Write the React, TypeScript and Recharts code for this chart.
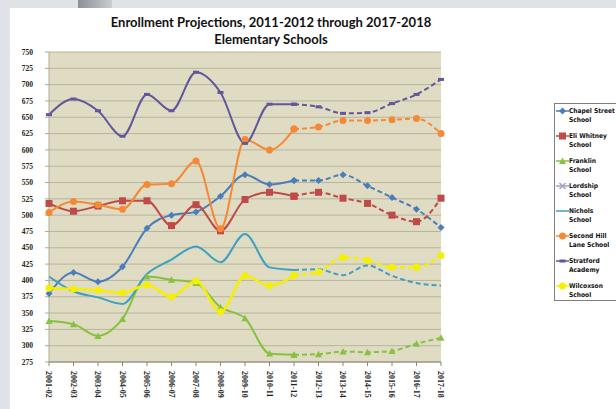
import React from 'react';
import { LineChart, Line, XAxis, YAxis, CartesianGrid, Legend } from 'recharts';

const CATEGORIES = [
  '2001-02', '2002-03', '2003-04', '2004-05', '2005-06', '2006-07', '2007-08', '2008-09', '2009-10',
  '2010-11', '2011-12', '2012-13', '2013-14', '2014-15', '2015-16', '2016-17', '2017-18',
];
const Y_TICKS = [275, 300, 325, 350, 375, 400, 425, 450, 475, 500, 525, 550, 575, 600, 625, 650, 675, 700, 725, 750];

// actual through 2011-12, projected after that
const PROJECTION_START = 10;

const CHAPEL_STREET = [380, 412, 398, 421, 480, 500, 505, 529, 562, 547, 553, 553, 562, 545, 527, 509, 481];
const ELI_WHITNEY = [518, 506, 514, 522, 522, 484, 516, 476, 524, 535, 529, 535, 526, 518, 500, 490, 526];
const FRANKLIN = [338, 333, 315, 341, 406, 401, 396, 359, 342, 288, 286, 287, 291, 290, 292, 303, 312];
const NICHOLS = [406, 383, 374, 364, 410, 432, 452, 428, 471, 420, 416, 417, 408, 423, 407, 396, 392];
const SECOND_HILL_LANE = [504, 521, 516, 509, 547, 548, 583, 479, 616, 600, 632, 635, 645, 645, 646, 648, 625];
const STRATFORD_ACADEMY = [654, 678, 660, 621, 685, 660, 719, 688, 610, 670, 670, 666, 656, 657, 671, 685, 708];
const WILCOXSON = [388, 387, 385, 381, 393, 375, 399, 352, 407, 392, 408, 413, 435, 431, 420, 420, 438];

type Shape = 'diamond' | 'square' | 'triangle' | 'circle' | 'dash' | 'cross' | 'none';

// legend names carry their own line breaks so they fit the narrow legend box
const SCHOOLS: { key: string; name: string; color: string; shape: Shape; width: number; values: number[] | null }[] = [
  { key: 'chapel', name: 'Chapel Street\nSchool', color: '#4a7ebb', shape: 'diamond', width: 2, values: CHAPEL_STREET },
  { key: 'eli', name: 'Eli Whitney\nSchool', color: '#be4b48', shape: 'square', width: 2, values: ELI_WHITNEY },
  { key: 'franklin', name: 'Franklin\nSchool', color: '#86c23f', shape: 'triangle', width: 2, values: FRANKLIN },
  { key: 'lordship', name: 'Lordship\nSchool', color: '#a59fcc', shape: 'cross', width: 2, values: null },
  { key: 'nichols', name: 'Nichols\nSchool', color: '#3ea1bf', shape: 'none', width: 2, values: NICHOLS },
  { key: 'secondHill', name: 'Second Hill\nLane School', color: '#f48a36', shape: 'circle', width: 2, values: SECOND_HILL_LANE },
  { key: 'stratford', name: 'Stratford\nAcademy', color: '#62569c', shape: 'dash', width: 2, values: STRATFORD_ACADEMY },
  { key: 'wilcoxson', name: 'Wilcoxson\nSchool', color: '#f4f000', shape: 'circle', width: 2.5, values: WILCOXSON },
];

const rows = CATEGORIES.map((year, i) => {
  const row: Record<string, string | number> = { year };
  SCHOOLS.forEach((s) => {
    if (!s.values) return;
    if (i <= PROJECTION_START) row[s.key] = s.values[i];
    if (i >= PROJECTION_START) row[s.key + 'Proj'] = s.values[i];
  });
  return row;
});

function Marker({ shape, cx, cy, color }: { shape: Shape; cx: number; cy: number; color: string }) {
  if (cx == null || cy == null) return null;
  switch (shape) {
    case 'square':
      return <rect x={cx - 3.5} y={cy - 3.5} width={7} height={7} fill={color} />;
    case 'diamond':
      return <polygon points={`${cx},${cy - 3.5} ${cx + 3.5},${cy} ${cx},${cy + 3.5} ${cx - 3.5},${cy}`} fill={color} />;
    case 'triangle':
      return <polygon points={`${cx},${cy - 3.5} ${cx + 3.5},${cy + 3} ${cx - 3.5},${cy + 3}`} fill={color} />;
    case 'circle':
      return <circle cx={cx} cy={cy} r={3.5} fill={color} />;
    case 'dash':
      return <rect x={cx - 3} y={cy - 1.5} width={6} height={3} fill={color} />;
    case 'cross':
      return <path d={`M${cx - 3},${cy - 3}L${cx + 3},${cy + 3}M${cx + 3},${cy - 3}L${cx - 3},${cy + 3}`} stroke={color} strokeWidth={1.5} />;
    default:
      return null;
  }
}

function XTick({ x, y, payload }: any) {
  return (
    <text
      transform={`translate(${x},${y + 3}) rotate(90)`}
      textAnchor="start"
      dy="0.35em"
      fontSize={8}
      fontWeight={700}
      fontFamily='"Liberation Serif", serif'
      fill="#222"
    >
      {payload.value}
    </text>
  );
}

function SchoolLegend() {
  return (
    <div
      style={{
        border: '1px solid #7f7f7f',
        background: '#fff',
        height: 198,
        paddingTop: 2,
        boxSizing: 'border-box',
        fontFamily: '"Liberation Sans Narrow", "DejaVu Sans Condensed", sans-serif',
        fontSize: 6.6,
        fontWeight: 700,
        color: '#111',
      }}
    >
      {SCHOOLS.map((s) => (
        <div key={s.key} style={{ display: 'flex', height: 25, alignItems: 'flex-start' }}>
          <svg width={13} height={10} style={{ marginLeft: 1, flex: 'none' }}>
            <line x1={0} y1={5} x2={13} y2={5} stroke={s.color} strokeWidth={1.5} />
            <Marker shape={s.shape} cx={6.5} cy={5} color={s.color} />
          </svg>
          <span style={{ whiteSpace: 'pre', lineHeight: '9.5px', flex: 'none', paddingTop: 0.5 }}>{s.name}</span>
        </div>
      ))}
    </div>
  );
}

export default function App() {
  return (
    <div style={{ position: 'fixed', left: 0, top: 0, width: 616, height: 409, background: '#dfe3e7', overflow: 'hidden' }}>
      <div
        style={{
          position: 'absolute',
          left: 78,
          top: 0,
          width: 34,
          height: 8,
          background: 'linear-gradient(90deg, #8b9096, #c9ccd0)',
        }}
      />
      <div style={{ position: 'absolute', left: 10, top: 8, right: 0, bottom: 0, background: '#fff' }} />
      <div
        style={{
          position: 'absolute',
          left: 0,
          top: 14,
          width: 542,
          textAlign: 'center',
          fontFamily: '"Liberation Sans Narrow", Lato, sans-serif',
          fontWeight: 700,
          fontSize: 13,
          lineHeight: '17px',
          color: '#111',
        }}
      >
        Enrollment Projections, 2011-2012 through 2017-2018
        <br />
        Elementary Schools
      </div>
      <div style={{ position: 'absolute', left: 0, top: 0 }}>
        <LineChart width={616} height={409} data={rows} margin={{ top: 52, right: 65, bottom: 0, left: 0 }}>
          <CartesianGrid vertical={false} stroke="#b9b49c" fill="#e0dbc3" />
          <XAxis
            dataKey="year"
            height={47}
            tick={<XTick />}
            tickSize={4}
            interval={0}
            stroke="#8a8678"
          />
          <YAxis
            domain={[275, 750]}
            ticks={Y_TICKS}
            interval={0}
            width={49}
            tickSize={4}
            tickMargin={12}
            stroke="#b0ab95"
            tick={{ fontSize: 7.5, fontWeight: 700, fontFamily: '"Liberation Serif", serif', fill: '#222' }}
          />
          <Legend
            layout="horizontal"
            verticalAlign="middle"
            align="right"
            wrapperStyle={{ position: 'absolute', left: 554, top: 103, width: 110 }}
            content={() => <SchoolLegend />}
          />
          {SCHOOLS.map((s) => (
            <Line
              key={s.key}
              type="monotone"
              dataKey={s.key}
              name={s.name}
              stroke={s.color}
              strokeWidth={s.width}
              isAnimationActive={false}
              connectNulls={false}
              dot={(p: any) => <Marker key={`${s.key}-${p.index}`} shape={s.shape} cx={p.cx} cy={p.cy} color={s.color} />}
              activeDot={false}
            />
          ))}
          {SCHOOLS.filter((s) => s.values).map((s) => (
            <Line
              key={s.key + 'Proj'}
              type="monotone"
              dataKey={s.key + 'Proj'}
              stroke={s.color}
              strokeWidth={s.width}
              strokeDasharray="5 3"
              legendType="none"
              isAnimationActive={false}
              dot={(p: any) => <Marker key={`${s.key}p-${p.index}`} shape={s.shape} cx={p.cx} cy={p.cy} color={s.color} />}
              activeDot={false}
            />
          ))}
        </LineChart>
      </div>
    </div>
  );
}
